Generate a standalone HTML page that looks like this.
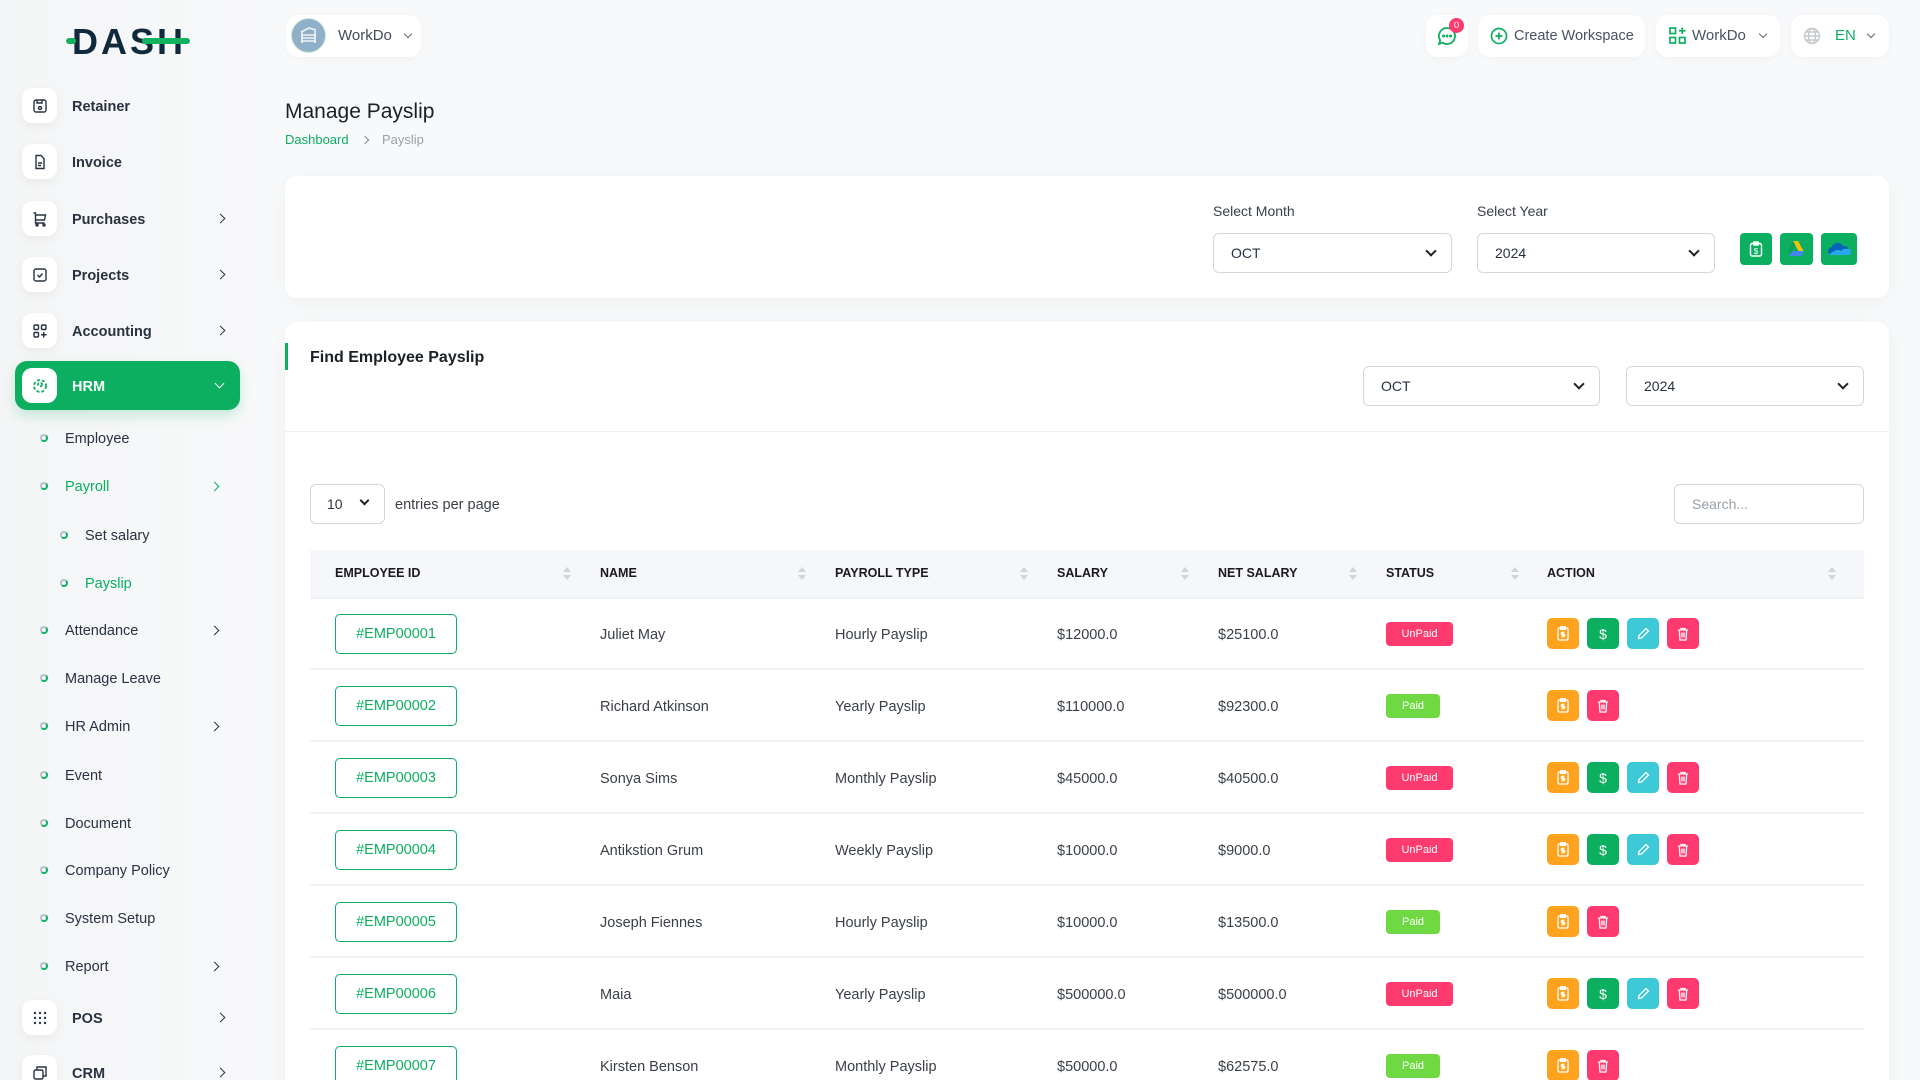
<!DOCTYPE html>
<html><head><meta charset="utf-8">
<style>
*{box-sizing:border-box;margin:0;padding:0}
html,body{width:1920px;height:1080px;overflow:hidden}
body{background:#f8f9fa;font-family:"Liberation Sans",Arial,sans-serif;color:#293240;position:relative}
.a{position:absolute}
.sb{position:absolute;left:0;top:0;width:282px;height:1080px;background:linear-gradient(to right,#f4f5f6 0%,#f8f9fa 100%)}
.ib{position:absolute;left:22px;width:35px;height:35px;background:#fff;border-radius:10px;box-shadow:0 3px 10px rgba(0,0,0,0.05);display:flex;align-items:center;justify-content:center}
.mt{position:absolute;left:72px;font-size:14.5px;font-weight:700;color:#293240;line-height:20px}
.chev{position:absolute;width:7px;height:7px;border-right:1.8px solid #333;border-bottom:1.8px solid #333;transform:rotate(-45deg)}
.st{position:absolute;font-size:14.5px;color:#293240;line-height:20px}
.bul{position:absolute;width:8px;height:8px;border-radius:50%;border:2px solid #b8bfc6;border-right-color:#0caf60;border-bottom-color:#0caf60}
.tbtn{position:absolute;top:15px;height:42px;background:#fff;border-radius:12px;box-shadow:0 2px 8px rgba(0,0,0,0.03)}
.card{position:absolute;left:285px;width:1604px;background:#fff;border-radius:12px;box-shadow:0 4px 20px rgba(0,0,0,0.04)}
.sel{position:absolute;height:40px;border:1px solid #d3d7dd;border-radius:6px;background:#fff;font-size:14px;color:#293240;line-height:38px}
.sel .v{position:absolute;left:17px}
.sel .cv{position:absolute;top:13px;width:8px;height:8px;border-right:2px solid #222;border-bottom:2px solid #222;transform:rotate(45deg)}
.th{position:absolute;top:0;line-height:48px;font-size:12.5px;font-weight:700;color:#1a1a1a}
.so{position:absolute;top:18px;width:8px;height:14px}
.so:before{content:"";position:absolute;left:0;top:0;border-left:4px solid transparent;border-right:4px solid transparent;border-bottom:5px solid #d0d3d8}
.so:after{content:"";position:absolute;left:0;top:8px;border-left:4px solid transparent;border-right:4px solid transparent;border-top:5px solid #d0d3d8}
.hrow{position:absolute;left:0;width:1920px;height:48px}
.row{position:absolute;left:0;width:1920px;height:72px}
.row:after{content:"";position:absolute;left:310px;width:1554px;top:70px;height:2px;background:#f0f1f2}
.td{position:absolute;top:1px;line-height:72px;font-size:14.5px;color:#3a3f47}
.emp{position:absolute;left:335px;top:16px;width:122px;height:40px;border:1px solid #0caf60;border-radius:5px;color:#0caf60;font-size:14.5px;text-align:center;line-height:38px}
.bd{position:absolute;left:1386px;top:24px;height:24px;border-radius:4px;color:#fff;font-size:11px;text-align:center;line-height:24px}
.un{width:67px;background:#ff3a6e}
.pd{width:54px;background:#6fd943}
.ab{position:absolute;top:20px;width:32px;height:31px;border-radius:5px;display:flex;align-items:center;justify-content:center;color:#fff;font-size:14px}
.o{background:#ffa21d}.g{background:#0caf60}.c{background:#3ec9d6}.p{background:#ff3a6e}
</style></head><body>

<!-- Sidebar -->
<div class="sb"></div>
<!-- Logo -->
<div class="a" style="left:72px;top:22px;font-size:36px;font-weight:900;color:#0f2a3c;letter-spacing:3px;line-height:40px;font-family:'Liberation Sans',sans-serif">DASH</div>
<div class="a" style="left:66px;top:38px;width:10px;height:6px;border-radius:3px;background:#12b35f"></div>
<div class="a" style="left:142px;top:38px;width:48px;height:6px;border-radius:3px;background:#12b35f"></div>

<!-- Sidebar items -->
<div class="ib" style="top:88px"><svg width="16" height="16" viewBox="0 0 16 16" fill="none" stroke="#293240" stroke-width="1.4"><rect x="2" y="2" width="12" height="12" rx="2"/><path d="M5 2v3h5V2"/><circle cx="8" cy="10" r="1.5"/></svg></div>
<div class="mt" style="top:97px">Retainer</div>
<div class="ib" style="top:144px"><svg width="16" height="16" viewBox="0 0 16 16" fill="none" stroke="#293240" stroke-width="1.4"><path d="M4 1.5h5l3 3v10H4z"/><path d="M6 9h4M6 11.5h3"/></svg></div>
<div class="mt" style="top:153px">Invoice</div>
<div class="ib" style="top:201px"><svg width="16" height="16" viewBox="0 0 16 16" fill="none" stroke="#293240" stroke-width="1.4"><path d="M1.5 2h2v10h9M3.5 4h10l-1 5h-9"/><circle cx="5" cy="14" r="1"/><circle cx="12" cy="14" r="1"/></svg></div>
<div class="mt" style="top:210px">Purchases</div><div class="chev" style="left:217px;top:215px"></div>
<div class="ib" style="top:257px"><svg width="16" height="16" viewBox="0 0 16 16" fill="none" stroke="#293240" stroke-width="1.4"><rect x="2" y="2" width="12" height="12" rx="2"/><path d="M5.5 8l2 2 3-3.5"/></svg></div>
<div class="mt" style="top:266px">Projects</div><div class="chev" style="left:217px;top:271px"></div>
<div class="ib" style="top:313px"><svg width="16" height="16" viewBox="0 0 16 16" fill="none" stroke="#293240" stroke-width="1.4"><rect x="2" y="2" width="4.5" height="4.5" rx="1"/><rect x="9.5" y="2" width="4.5" height="4.5" rx="1"/><rect x="2" y="9.5" width="4.5" height="4.5" rx="1"/><path d="M11.75 9v5.5M9 11.75h5.5"/></svg></div>
<div class="mt" style="top:322px">Accounting</div><div class="chev" style="left:217px;top:327px"></div>

<div class="a" style="left:15px;top:361px;width:225px;height:49px;background:#0caf60;border-radius:12px;box-shadow:0 6px 12px rgba(12,175,96,0.2)"></div>
<div class="ib" style="top:368px;box-shadow:none"><svg width="16" height="16" viewBox="0 0 16 16" fill="none" stroke="#0caf60" stroke-width="1.8" stroke-dasharray="3 2"><circle cx="8" cy="8" r="6"/><circle cx="8" cy="6.5" r="2"/></svg></div>
<div class="mt" style="top:377px;color:#fff">HRM</div>
<div class="a" style="left:216px;top:380px;width:7px;height:7px;border-right:1.8px solid #fff;border-bottom:1.8px solid #fff;transform:rotate(45deg)"></div>

<div class="bul" style="left:40px;top:434px"></div><div class="st" style="left:65px;top:429px">Employee</div>
<div class="bul" style="left:40px;top:482px"></div><div class="st" style="left:65px;top:477px;color:#0caf60">Payroll</div><div class="chev" style="left:211px;top:483px;border-color:#0caf60"></div>
<div class="bul" style="left:60px;top:531px"></div><div class="st" style="left:85px;top:526px">Set salary</div>
<div class="bul" style="left:60px;top:579px"></div><div class="st" style="left:85px;top:574px;color:#0caf60">Payslip</div>
<div class="bul" style="left:40px;top:626px"></div><div class="st" style="left:65px;top:621px">Attendance</div><div class="chev" style="left:211px;top:627px"></div>
<div class="bul" style="left:40px;top:674px"></div><div class="st" style="left:65px;top:669px">Manage Leave</div>
<div class="bul" style="left:40px;top:722px"></div><div class="st" style="left:65px;top:717px">HR Admin</div><div class="chev" style="left:211px;top:723px"></div>
<div class="bul" style="left:40px;top:771px"></div><div class="st" style="left:65px;top:766px">Event</div>
<div class="bul" style="left:40px;top:819px"></div><div class="st" style="left:65px;top:814px">Document</div>
<div class="bul" style="left:40px;top:866px"></div><div class="st" style="left:65px;top:861px">Company Policy</div>
<div class="bul" style="left:40px;top:914px"></div><div class="st" style="left:65px;top:909px">System Setup</div>
<div class="bul" style="left:40px;top:962px"></div><div class="st" style="left:65px;top:957px">Report</div><div class="chev" style="left:211px;top:963px"></div>

<div class="ib" style="top:1000px"><svg width="16" height="16" viewBox="0 0 16 16" fill="#293240"><circle cx="3" cy="3" r="1.2"/><circle cx="8" cy="3" r="1.2"/><circle cx="13" cy="3" r="1.2"/><circle cx="3" cy="8" r="1.2"/><circle cx="8" cy="8" r="1.2"/><circle cx="13" cy="8" r="1.2"/><circle cx="3" cy="13" r="1.2"/><circle cx="8" cy="13" r="1.2"/><circle cx="13" cy="13" r="1.2"/></svg></div>
<div class="mt" style="top:1009px">POS</div><div class="chev" style="left:217px;top:1014px"></div>
<div class="ib" style="top:1055px"><svg width="16" height="16" viewBox="0 0 16 16" fill="none" stroke="#293240" stroke-width="1.4"><rect x="2" y="5" width="9" height="9" rx="1.5"/><path d="M5 5V2h9v9h-3"/></svg></div>
<div class="mt" style="top:1064px">CRM</div><div class="chev" style="left:217px;top:1069px"></div>

<!-- Top bar -->
<div class="tbtn" style="left:286px;width:135px"></div>
<div class="a" style="left:291px;top:18px;width:35px;height:35px;border-radius:50%;background:#8fb0c8;border:1.5px solid #cfe9dc"></div>
<svg class="a" style="left:299px;top:25px" width="19" height="20" viewBox="0 0 19 20" fill="none" stroke="#eef4f8" stroke-width="1.6"><path d="M2 7l8-4 7 2M2 10h15M2 13h15M2 16h15M3 7v11M16 5v13"/></svg>
<div class="a" style="left:338px;top:27px;font-size:15px;color:#444b55">WorkDo</div>
<div class="a" style="left:405px;top:31px;width:6px;height:6px;border-right:1.4px solid #666;border-bottom:1.4px solid #666;transform:rotate(45deg)"></div>

<div class="tbtn" style="left:1426px;width:42px"></div>
<svg class="a" style="left:1437px;top:26px" width="20" height="20" viewBox="0 0 20 20" fill="none" stroke="#0caf60" stroke-width="1.8"><path d="M10 2a8 8 0 1 1-4.5 14.6L2 18l1.2-3.6A8 8 0 0 1 10 2z"/><circle cx="6.5" cy="10" r=".6" fill="#0caf60"/><circle cx="10" cy="10" r=".6" fill="#0caf60"/><circle cx="13.5" cy="10" r=".6" fill="#0caf60"/></svg>
<div class="a" style="left:1449px;top:18px;width:15px;height:15px;border-radius:50%;background:#ff3a6e;color:#fff;font-size:9.5px;text-align:center;line-height:15px">0</div>

<div class="tbtn" style="left:1478px;width:167px"></div>
<svg class="a" style="left:1490px;top:27px" width="18" height="18" viewBox="0 0 18 18" fill="none" stroke="#0caf60" stroke-width="1.7"><circle cx="9" cy="9" r="7.5"/><path d="M9 5.5v7M5.5 9h7"/></svg>
<div class="a" style="left:1514px;top:28px;font-size:14.5px;color:#4a5260">Create Workspace</div>

<div class="tbtn" style="left:1656px;width:124px"></div>
<svg class="a" style="left:1669px;top:27px" width="17" height="17" viewBox="0 0 17 17" fill="none" stroke="#0caf60" stroke-width="1.7"><rect x="1" y="1" width="5.5" height="5.5"/><rect x="1" y="10.5" width="5.5" height="5.5"/><rect x="10.5" y="10.5" width="5.5" height="5.5"/><path d="M13.25 0.5v6.5M10 3.75h6.5"/></svg>
<div class="a" style="left:1692px;top:27px;font-size:15px;color:#4a5260">WorkDo</div>
<div class="a" style="left:1760px;top:31px;width:6px;height:6px;border-right:1.4px solid #666;border-bottom:1.4px solid #666;transform:rotate(45deg)"></div>

<div class="tbtn" style="left:1791px;width:98px"></div>
<svg class="a" style="left:1803px;top:27px" width="18" height="18" viewBox="0 0 18 18" fill="none" stroke="#c4c8cc" stroke-width="1.4"><circle cx="9" cy="9" r="7.5"/><ellipse cx="9" cy="9" rx="3.5" ry="7.5"/><path d="M1.5 9h15M3 5h12M3 13h12"/></svg>
<div class="a" style="left:1835px;top:27px;font-size:15px;color:#0caf60">EN</div>
<div class="a" style="left:1868px;top:31px;width:6px;height:6px;border-right:1.4px solid #666;border-bottom:1.4px solid #666;transform:rotate(45deg)"></div>

<!-- Title -->
<div class="a" style="left:285px;top:99px;font-size:21px;color:#1b1f26;line-height:26px">Manage Payslip</div>
<div class="a" style="left:285px;top:132px;font-size:13px;color:#0caf60;line-height:16px">Dashboard</div>
<div class="a" style="left:362px;top:137px;width:6px;height:6px;border-right:1.3px solid #888;border-top:1.3px solid #888;transform:rotate(45deg)"></div>
<div class="a" style="left:382px;top:132px;font-size:13px;color:#9aa1a9;line-height:16px">Payslip</div>

<!-- Card 1 -->
<div class="card" style="top:176px;height:122px"></div>
<div class="a" style="left:1213px;top:203px;font-size:14px;color:#3a3f47">Select Month</div>
<div class="sel" style="left:1213px;top:233px;width:239px"><span class="v">OCT</span><span class="cv" style="left:213px"></span></div>
<div class="a" style="left:1477px;top:203px;font-size:14px;color:#3a3f47">Select Year</div>
<div class="sel" style="left:1477px;top:233px;width:238px"><span class="v">2024</span><span class="cv" style="left:212px"></span></div>
<div class="a" style="left:1740px;top:233px;width:32px;height:32px;border-radius:4px;background:#0caf60"></div>
<svg class="a" style="left:1749px;top:241px" width="14" height="16" viewBox="0 0 14 16" fill="none" stroke="#fff" stroke-width="1.4"><rect x="1.5" y="2.5" width="11" height="12.5" rx="1.5"/><rect x="4.5" y="1" width="5" height="3" rx=".8"/><text x="7" y="13" font-size="8" fill="#fff" stroke="none" text-anchor="middle" font-family="Liberation Sans">$</text></svg>
<div class="a" style="left:1780px;top:233px;width:33px;height:32px;border-radius:4px;background:#0caf60"></div>
<svg class="a" style="left:1787px;top:240px" width="19" height="18" viewBox="0 0 19 18"><path d="M6 1h5l6 11h-5z" fill="#f4c20d"/><path d="M2 16l3-5h12l-3 5z" fill="#4285f4"/><path d="M6 1l-5 9 2.5 4 5-9z" fill="#0f9d58"/></svg>
<div class="a" style="left:1821px;top:233px;width:36px;height:32px;border-radius:4px;background:#0caf60"></div>
<svg class="a" style="left:1827px;top:242px" width="24" height="14" viewBox="0 0 24 14"><path d="M5 13a4 4 0 0 1 0-8 6 6 0 0 1 11-1 5 5 0 0 1 6 5 4 4 0 0 1-3 4z" fill="#0364b8"/><path d="M2 13h20a3 3 0 0 0-2-6c-2-1-4 0-6 2-3-2-7-1-12 4z" fill="#28a8ea"/></svg>

<!-- Card 2 -->
<div class="card" style="top:322px;height:800px"></div>
<div class="a" style="left:285px;top:343px;width:3px;height:27px;background:#0caf60"></div>
<div class="a" style="left:310px;top:349px;font-size:16px;font-weight:700;color:#1b1f26">Find Employee Payslip</div>
<div class="sel" style="left:1363px;top:366px;width:237px"><span class="v">OCT</span><span class="cv" style="left:211px"></span></div>
<div class="sel" style="left:1626px;top:366px;width:238px"><span class="v">2024</span><span class="cv" style="left:212px"></span></div>
<div class="a" style="left:285px;top:431px;width:1604px;height:1px;background:#eceef1"></div>

<div class="sel" style="left:310px;top:484px;width:75px"><span class="v" style="left:16px">10</span><span class="cv" style="left:50px;top:12px;width:7px;height:7px"></span></div>
<div class="a" style="left:395px;top:497px;font-size:14.5px;color:#3a3f47">entries per page</div>
<div class="sel" style="left:1674px;top:484px;width:190px;color:#9aa1a9"><span class="v">Search...</span></div>

<!-- Table header -->
<div class="a" style="left:310px;top:550px;width:1554px;height:48px;background:#f6f7fb"></div>
<div class="hrow" style="top:549px">
<div class="th" style="left:335px">EMPLOYEE ID</div><div class="so" style="left:563px"></div>
<div class="th" style="left:600px">NAME</div><div class="so" style="left:798px"></div>
<div class="th" style="left:835px">PAYROLL TYPE</div><div class="so" style="left:1020px"></div>
<div class="th" style="left:1057px">SALARY</div><div class="so" style="left:1181px"></div>
<div class="th" style="left:1218px">NET SALARY</div><div class="so" style="left:1349px"></div>
<div class="th" style="left:1386px">STATUS</div><div class="so" style="left:1511px"></div>
<div class="th" style="left:1547px">ACTION</div><div class="so" style="left:1828px"></div>
</div>
<div class="a" style="left:310px;top:597px;width:1554px;height:2px;background:#f0f1f2"></div>

<!-- Rows -->
<div class="row" style="top:598px">
<div class="emp">#EMP00001</div><div class="td" style="left:600px">Juliet May</div><div class="td" style="left:835px">Hourly Payslip</div><div class="td" style="left:1057px">$12000.0</div><div class="td" style="left:1218px">$25100.0</div><div class="bd un">UnPaid</div>
<div class="ab o" style="left:1547px"><svg width="12" height="15" viewBox="0 0 12 15" fill="none" stroke="#fff" stroke-width="1.3"><rect x="1" y="2" width="10" height="12" rx="1.5"/><rect x="3.5" y=".8" width="5" height="2.6" rx=".6"/><path d="M7.5 6.5H5.3a1 1 0 0 0 0 2h1.4a1 1 0 0 1 0 2H4.5M6 5.5v6"/></svg></div>
<div class="ab g" style="left:1587px">$</div>
<div class="ab c" style="left:1627px"><svg width="13" height="13" viewBox="0 0 13 13" fill="none" stroke="#fff" stroke-width="1.3"><path d="M9 1.5l2.5 2.5L4.5 11 1.5 11.5 2 8.5z"/></svg></div>
<div class="ab p" style="left:1667px"><svg width="12" height="14" viewBox="0 0 12 14" fill="none" stroke="#fff" stroke-width="1.3"><path d="M1 3h10M4 3V1.5h4V3M2.3 3l.7 10h6l.7-10M5 5.5v5M7 5.5v5"/></svg></div>
</div>

<div class="row" style="top:670px">
<div class="emp">#EMP00002</div><div class="td" style="left:600px">Richard Atkinson</div><div class="td" style="left:835px">Yearly Payslip</div><div class="td" style="left:1057px">$110000.0</div><div class="td" style="left:1218px">$92300.0</div><div class="bd pd">Paid</div>
<div class="ab o" style="left:1547px"><svg width="12" height="15" viewBox="0 0 12 15" fill="none" stroke="#fff" stroke-width="1.3"><rect x="1" y="2" width="10" height="12" rx="1.5"/><rect x="3.5" y=".8" width="5" height="2.6" rx=".6"/><path d="M7.5 6.5H5.3a1 1 0 0 0 0 2h1.4a1 1 0 0 1 0 2H4.5M6 5.5v6"/></svg></div>
<div class="ab p" style="left:1587px"><svg width="12" height="14" viewBox="0 0 12 14" fill="none" stroke="#fff" stroke-width="1.3"><path d="M1 3h10M4 3V1.5h4V3M2.3 3l.7 10h6l.7-10M5 5.5v5M7 5.5v5"/></svg></div>
</div>

<div class="row" style="top:742px">
<div class="emp">#EMP00003</div><div class="td" style="left:600px">Sonya Sims</div><div class="td" style="left:835px">Monthly Payslip</div><div class="td" style="left:1057px">$45000.0</div><div class="td" style="left:1218px">$40500.0</div><div class="bd un">UnPaid</div>
<div class="ab o" style="left:1547px"><svg width="12" height="15" viewBox="0 0 12 15" fill="none" stroke="#fff" stroke-width="1.3"><rect x="1" y="2" width="10" height="12" rx="1.5"/><rect x="3.5" y=".8" width="5" height="2.6" rx=".6"/><path d="M7.5 6.5H5.3a1 1 0 0 0 0 2h1.4a1 1 0 0 1 0 2H4.5M6 5.5v6"/></svg></div>
<div class="ab g" style="left:1587px">$</div>
<div class="ab c" style="left:1627px"><svg width="13" height="13" viewBox="0 0 13 13" fill="none" stroke="#fff" stroke-width="1.3"><path d="M9 1.5l2.5 2.5L4.5 11 1.5 11.5 2 8.5z"/></svg></div>
<div class="ab p" style="left:1667px"><svg width="12" height="14" viewBox="0 0 12 14" fill="none" stroke="#fff" stroke-width="1.3"><path d="M1 3h10M4 3V1.5h4V3M2.3 3l.7 10h6l.7-10M5 5.5v5M7 5.5v5"/></svg></div>
</div>

<div class="row" style="top:814px">
<div class="emp">#EMP00004</div><div class="td" style="left:600px">Antikstion Grum</div><div class="td" style="left:835px">Weekly Payslip</div><div class="td" style="left:1057px">$10000.0</div><div class="td" style="left:1218px">$9000.0</div><div class="bd un">UnPaid</div>
<div class="ab o" style="left:1547px"><svg width="12" height="15" viewBox="0 0 12 15" fill="none" stroke="#fff" stroke-width="1.3"><rect x="1" y="2" width="10" height="12" rx="1.5"/><rect x="3.5" y=".8" width="5" height="2.6" rx=".6"/><path d="M7.5 6.5H5.3a1 1 0 0 0 0 2h1.4a1 1 0 0 1 0 2H4.5M6 5.5v6"/></svg></div>
<div class="ab g" style="left:1587px">$</div>
<div class="ab c" style="left:1627px"><svg width="13" height="13" viewBox="0 0 13 13" fill="none" stroke="#fff" stroke-width="1.3"><path d="M9 1.5l2.5 2.5L4.5 11 1.5 11.5 2 8.5z"/></svg></div>
<div class="ab p" style="left:1667px"><svg width="12" height="14" viewBox="0 0 12 14" fill="none" stroke="#fff" stroke-width="1.3"><path d="M1 3h10M4 3V1.5h4V3M2.3 3l.7 10h6l.7-10M5 5.5v5M7 5.5v5"/></svg></div>
</div>

<div class="row" style="top:886px">
<div class="emp">#EMP00005</div><div class="td" style="left:600px">Joseph Fiennes</div><div class="td" style="left:835px">Hourly Payslip</div><div class="td" style="left:1057px">$10000.0</div><div class="td" style="left:1218px">$13500.0</div><div class="bd pd">Paid</div>
<div class="ab o" style="left:1547px"><svg width="12" height="15" viewBox="0 0 12 15" fill="none" stroke="#fff" stroke-width="1.3"><rect x="1" y="2" width="10" height="12" rx="1.5"/><rect x="3.5" y=".8" width="5" height="2.6" rx=".6"/><path d="M7.5 6.5H5.3a1 1 0 0 0 0 2h1.4a1 1 0 0 1 0 2H4.5M6 5.5v6"/></svg></div>
<div class="ab p" style="left:1587px"><svg width="12" height="14" viewBox="0 0 12 14" fill="none" stroke="#fff" stroke-width="1.3"><path d="M1 3h10M4 3V1.5h4V3M2.3 3l.7 10h6l.7-10M5 5.5v5M7 5.5v5"/></svg></div>
</div>

<div class="row" style="top:958px">
<div class="emp">#EMP00006</div><div class="td" style="left:600px">Maia</div><div class="td" style="left:835px">Yearly Payslip</div><div class="td" style="left:1057px">$500000.0</div><div class="td" style="left:1218px">$500000.0</div><div class="bd un">UnPaid</div>
<div class="ab o" style="left:1547px"><svg width="12" height="15" viewBox="0 0 12 15" fill="none" stroke="#fff" stroke-width="1.3"><rect x="1" y="2" width="10" height="12" rx="1.5"/><rect x="3.5" y=".8" width="5" height="2.6" rx=".6"/><path d="M7.5 6.5H5.3a1 1 0 0 0 0 2h1.4a1 1 0 0 1 0 2H4.5M6 5.5v6"/></svg></div>
<div class="ab g" style="left:1587px">$</div>
<div class="ab c" style="left:1627px"><svg width="13" height="13" viewBox="0 0 13 13" fill="none" stroke="#fff" stroke-width="1.3"><path d="M9 1.5l2.5 2.5L4.5 11 1.5 11.5 2 8.5z"/></svg></div>
<div class="ab p" style="left:1667px"><svg width="12" height="14" viewBox="0 0 12 14" fill="none" stroke="#fff" stroke-width="1.3"><path d="M1 3h10M4 3V1.5h4V3M2.3 3l.7 10h6l.7-10M5 5.5v5M7 5.5v5"/></svg></div>
</div>

<div class="row" style="top:1030px">
<div class="emp">#EMP00007</div><div class="td" style="left:600px">Kirsten Benson</div><div class="td" style="left:835px">Monthly Payslip</div><div class="td" style="left:1057px">$50000.0</div><div class="td" style="left:1218px">$62575.0</div><div class="bd pd">Paid</div>
<div class="ab o" style="left:1547px"><svg width="12" height="15" viewBox="0 0 12 15" fill="none" stroke="#fff" stroke-width="1.3"><rect x="1" y="2" width="10" height="12" rx="1.5"/><rect x="3.5" y=".8" width="5" height="2.6" rx=".6"/><path d="M7.5 6.5H5.3a1 1 0 0 0 0 2h1.4a1 1 0 0 1 0 2H4.5M6 5.5v6"/></svg></div>
<div class="ab p" style="left:1587px"><svg width="12" height="14" viewBox="0 0 12 14" fill="none" stroke="#fff" stroke-width="1.3"><path d="M1 3h10M4 3V1.5h4V3M2.3 3l.7 10h6l.7-10M5 5.5v5M7 5.5v5"/></svg></div>
</div>

</body></html>
